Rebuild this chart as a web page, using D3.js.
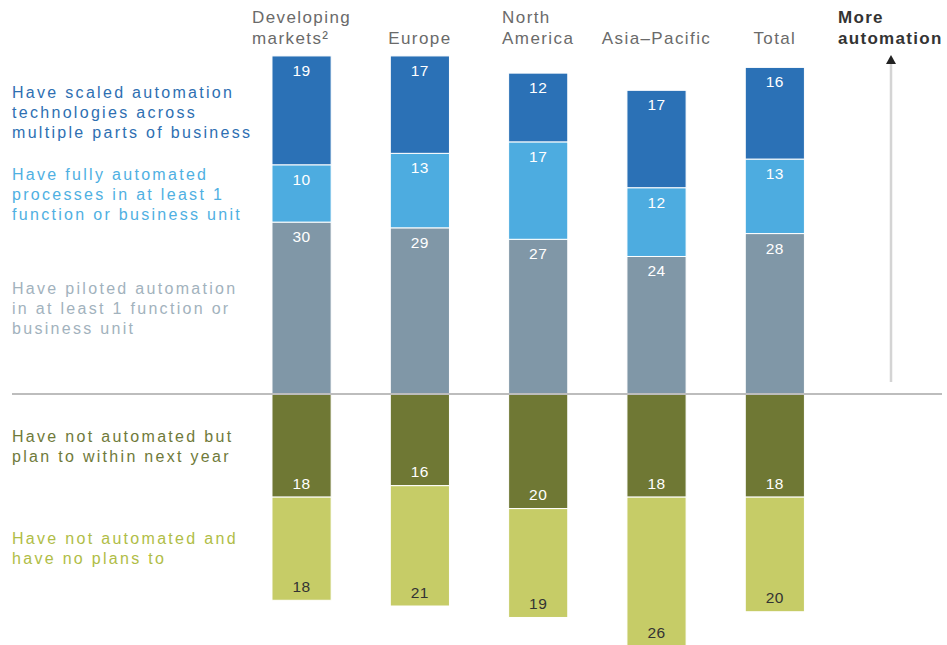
<!DOCTYPE html>
<html><head><meta charset="utf-8">
<script src="https://cdn.jsdelivr.net/npm/d3@7"></script>
<style>body{margin:0;background:#fff}svg{display:block;font-family:"Liberation Sans",Arial,sans-serif}</style>
</head><body>
<svg id="c" width="947" height="645"></svg>
<script>
const categories = ["Developing markets²", "Europe", "North America", "Asia–Pacific", "Total"];
const categoryLines = [["Developing", "markets²"], ["Europe"], ["North", "America"], ["Asia–Pacific"], ["Total"]];
const piloted = [30, 29, 27, 24, 28];
const fully = [10, 13, 17, 12, 13];
const scaled = [19, 17, 12, 17, 16];
const plan = [18, 16, 20, 18, 18];
const noPlans = [18, 21, 19, 26, 20];
const legendLines = {
  scaled: ["Have scaled automation", "technologies across", "multiple parts of business"],
  fully: ["Have fully automated", "processes in at least 1", "function or business unit"],
  piloted: ["Have piloted automation", "in at least 1 function or", "business unit"],
  plan: ["Have not automated but", "plan to within next year"],
  noPlans: ["Have not automated and", "have no plans to"]
};

const svg = d3.select("#c");
const base = 394, k = 5.73;
const y = d3.scaleLinear().domain([-45, 60]).range([base + 45 * k, base - 60 * k]);
const x = d3.scaleBand().domain(categories).range([242.4, 834]).paddingInner(0.5).paddingOuter(0.25);

const up = [
  {key: "piloted", vals: piloted, fill: "#8097a7", txt: "#fff", lc: "#a2b2bd"},
  {key: "fully", vals: fully, fill: "#4dace0", txt: "#fff", lc: "#4fb0e2"},
  {key: "scaled", vals: scaled, fill: "#2b71b6", txt: "#fff", lc: "#2e6fb2"}
];
const down = [
  {key: "plan", vals: plan, fill: "#6f7834", txt: "#fff", lc: "#6f7a3a"},
  {key: "noPlans", vals: noPlans, fill: "#c6cc67", txt: "#333", lc: "#b0bd46"}
];

const segs = [];
categories.forEach((c, i) => {
  let acc = 0;
  up.forEach(s => { segs.push({c, s, v: s.vals[i], y0: acc, y1: acc + s.vals[i], dir: 1}); acc += s.vals[i]; });
  acc = 0;
  down.forEach(s => { segs.push({c, s, v: s.vals[i], y0: acc, y1: acc - s.vals[i], dir: -1}); acc -= s.vals[i]; });
});

svg.append("g").selectAll("rect").data(segs).join("rect")
  .attr("x", d => x(d.c))
  .attr("width", x.bandwidth())
  .attr("y", d => Math.min(y(d.y0), y(d.y1)))
  .attr("height", d => Math.abs(y(d.y0) - y(d.y1)))
  .attr("fill", d => d.s.fill)
  .attr("stroke", "#fff").attr("stroke-width", 1);

svg.append("g").selectAll("text").data(segs).join("text")
  .attr("x", d => x(d.c) + x.bandwidth() / 2)
  .attr("y", d => d.dir > 0 ? y(d.y1) + 20 : y(d.y1) - 8.5)
  .attr("text-anchor", "middle")
  .attr("font-size", 15.5)
  .attr("letter-spacing", 0.5)
  .attr("fill", d => d.s.txt)
  .text(d => d.v);

// baseline
svg.append("line").attr("x1", 12).attr("x2", 942).attr("y1", y(0)).attr("y2", y(0))
  .attr("stroke", "#bdbdbd").attr("stroke-width", 2);

// category headers (bottom-aligned)
categories.forEach((c, i) => {
  const lines = categoryLines[i];
  const g = svg.append("g");
  const t = g.append("text").attr("font-size", 17).attr("letter-spacing", 1.4).attr("fill", "#6a6a6a");
  const start = 44 - (lines.length - 1) * 21;
  lines.forEach((l, j) => {
    t.append("tspan").attr("x", 0).attr("y", start + j * 21).text(l);
  });
  const w = t.node().getBBox().width;
  g.attr("transform", `translate(${x(c) + x.bandwidth() / 2 - w / 2},0)`);
});

// More automation
const ma = svg.append("text").attr("font-size", 17).attr("letter-spacing", 1.3).attr("font-weight", "bold").attr("fill", "#333");
ma.append("tspan").attr("x", 838).attr("y", 23).text("More");
ma.append("tspan").attr("x", 838).attr("y", 44).text("automation");
svg.append("line").attr("x1", 891).attr("x2", 891).attr("y1", 382).attr("y2", 62)
  .attr("stroke", "#d4d4d4").attr("stroke-width", 2.5);
svg.append("path").attr("d", "M891,55 L886,64 L896,64 Z").attr("fill", "#222");

// legend labels
const legendY = {scaled: 98, fully: 180, piloted: 294, plan: 442, noPlans: 544};
[...up, ...down].forEach(s => {
  const t = svg.append("text").attr("font-size", 16).attr("fill", s.lc).attr("letter-spacing", 2.3);
  legendLines[s.key].forEach((l, j) => {
    t.append("tspan").attr("x", 12).attr("y", legendY[s.key] + j * 20).text(l);
  });
});
</script>
</body></html>
